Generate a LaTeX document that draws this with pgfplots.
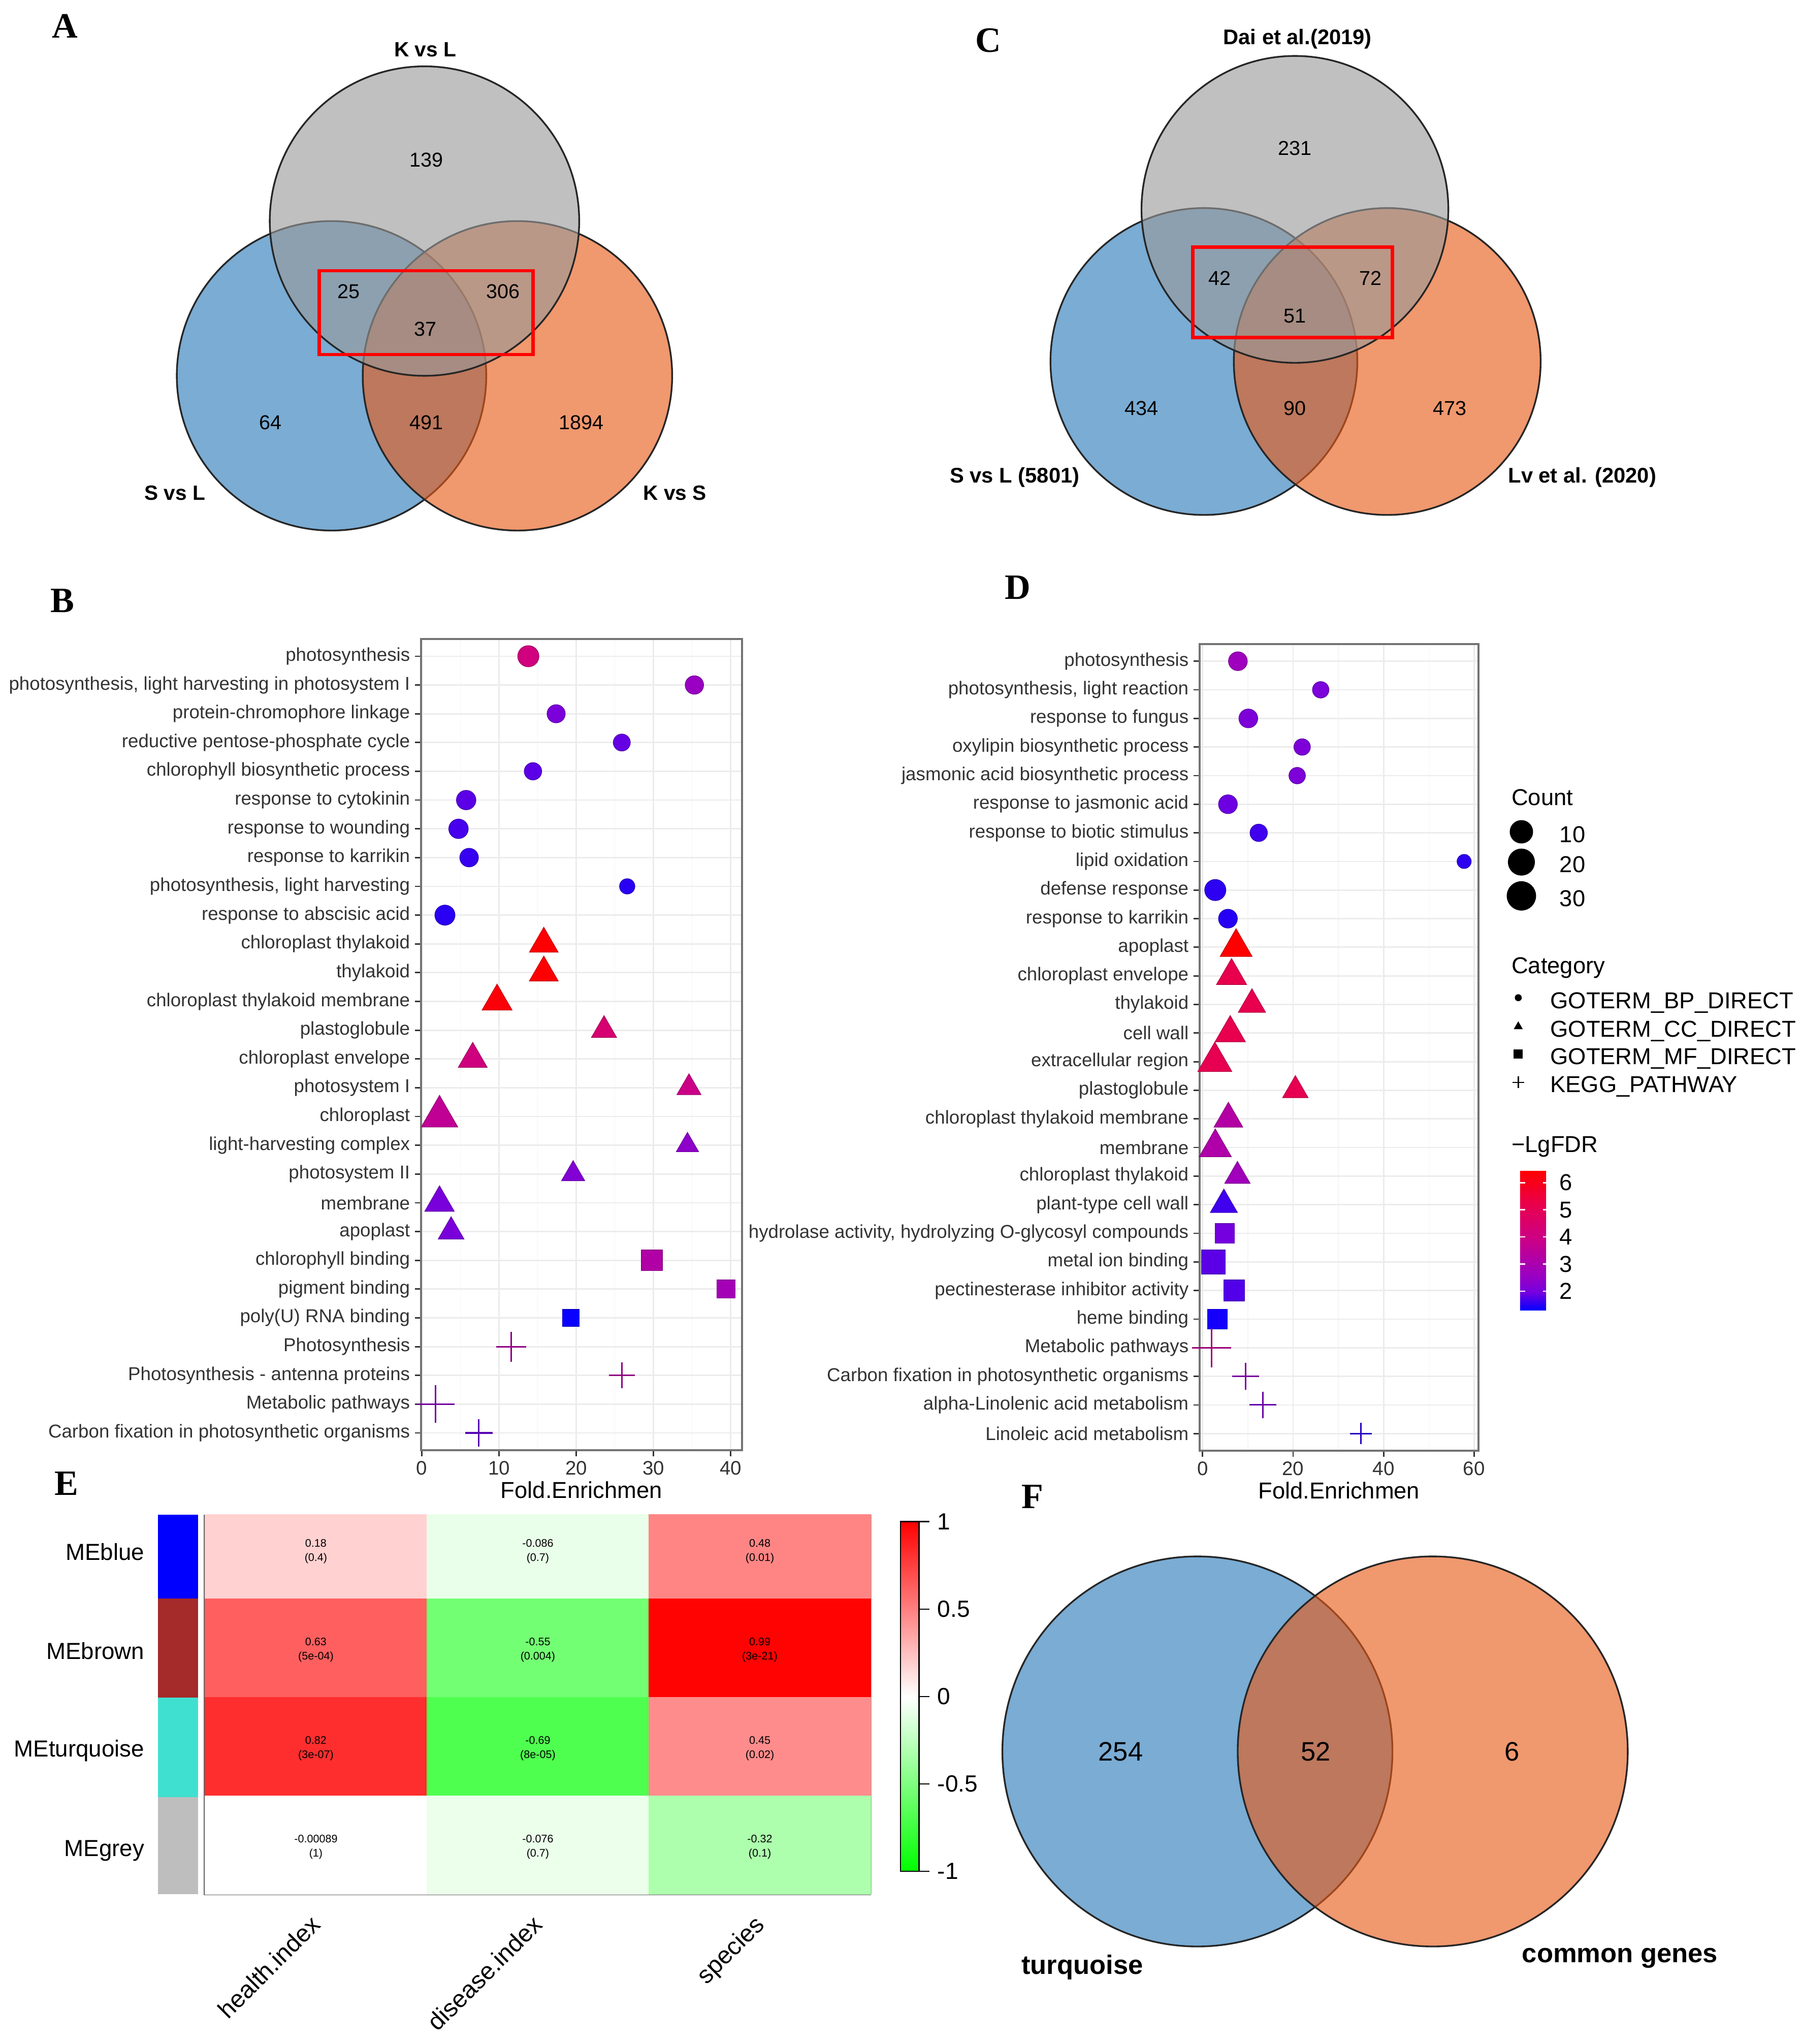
\documentclass[border=0pt]{standalone}
\usepackage{pgfplots}
\pgfplotsset{compat=1.18}
\usepackage{fontspec}
\setmainfont{Liberation Sans}
\newfontfamily\tnr{Liberation Serif}
\newcommand{\fs}[1]{\fontsize{#1}{#1}\selectfont}

\definecolor{vblue}{RGB}{41,121,186}
\definecolor{vorange}{RGB}{231,89,21}
\definecolor{vgray}{RGB}{153,153,153}
\definecolor{mebrown}{RGB}{165,42,42}
\definecolor{meturq}{RGB}{64,224,208}
\definecolor{megrey}{RGB}{190,190,190}

\tikzset{vline/.style={black!85, line width=0.033cm}}

\pgfplotsset{
  /pgf/number format/assume math mode=true,
  colormap={lab}{rgb255(0cm)=(0,0,255); rgb255(1cm)=(115,0,224); rgb255(2cm)=(154,0,194); rgb255(4cm)=(202,0,137); rgb255(6cm)=(232,0,79); rgb255(8cm)=(255,0,0)},
  colormap={gwr}{rgb255(0cm)=(0,255,0); rgb255(1cm)=(255,255,255); rgb255(2cm)=(255,0,0)},
  enrich/.style={
    scale only axis, anchor=north west, y dir=reverse,
    ymin=0.4, ymax=28.6, ytick={1,...,28},
    grid=both,
    major grid style={gray!15, line width=0.0275cm},
    minor grid style={gray!8, line width=0.014cm},
    axis line style={black!55, line width=0.04cm},
    tick style={black!80, line width=0.0275cm},
    major tick length=0.1125cm, minor tick length=0pt,
    tick align=outside, tick pos=left,
    yticklabel style={font=\fs{10.2}, text=black!80, inner sep=0pt, xshift=-0.09cm},
    xticklabel style={font=\fs{10.7}, text=black!80, inner sep=0pt, yshift=-0.09cm},
    xlabel={Fold.Enrichmen},
    xlabel style={font=\fs{12.6}, at={(axis description cs:0.5,-0.049)}, anchor=center},
    colormap name=lab, point meta min=1.29, point meta max=6.44,
  },
  pt/.style={scatter, only marks, point meta=explicit,
    visualization depends on={\thisrow{w} \as \ptw}},
  circ/.style={pt, mark=*, scatter/@pre marker code/.append style={/tikz/mark size=\ptw*0.0125cm}},
  tri/.style={pt, mark=triangle*, scatter/@pre marker code/.append style={/tikz/mark size=\ptw*0.014434cm}},
  sqr/.style={pt, mark=square*, scatter/@pre marker code/.append style={/tikz/mark size=\ptw*0.0125cm}},
  pls/.style={pt, mark=+, mark options={line width=0.03cm}, scatter/@pre marker code/.append style={/tikz/mark size=\ptw*0.0125cm}},
}

\begin{document}
\begin{tikzpicture}

% ---------- overlay: Venn diagrams, panel letters, legend, heatmap labels
\begin{axis}[scale only axis, width=34.625cm, height=39.3cm, at={(0cm,0cm)}, anchor=north west,
  xmin=0, xmax=1385, ymin=0, ymax=1572, y dir=reverse, hide axis, clip=false]
% A
\fill[vblue, fill opacity=0.62] (axis cs:255,289) circle[radius=2.975cm];
\draw[vline] (axis cs:255,289) circle[radius=2.975cm];
\fill[vorange, fill opacity=0.62] (axis cs:398,289) circle[radius=2.975cm];
\draw[vline] (axis cs:398,289) circle[radius=2.975cm];
\fill[vgray, fill opacity=0.62] (axis cs:326.5,170) circle[radius=2.975cm];
\draw[vline] (axis cs:326.5,170) circle[radius=2.975cm];
\draw[red, line width=0.065cm] (axis cs:245.4,208.2) rectangle (axis cs:410,272.6);
\node[font=\bfseries\fs{11.3}] at (axis cs:327,38) {K vs L};
\node[font=\bfseries\fs{11.3}] at (axis cs:134.5,379) {S vs L};
\node[font=\bfseries\fs{11.3}] at (axis cs:519,379) {K vs S};
\node[font=\fs{11}] at (axis cs:328,123) {139};
\node[font=\fs{11}] at (axis cs:268,224) {25};
\node[font=\fs{11}] at (axis cs:387,224) {306};
\node[font=\fs{11}] at (axis cs:327,253) {37};
\node[font=\fs{11}] at (axis cs:208,325) {64};
\node[font=\fs{11}] at (axis cs:328,325) {491};
\node[font=\fs{11}] at (axis cs:447,325) {1894};
% C
\fill[vblue, fill opacity=0.62] (axis cs:926,278) circle[radius=2.95cm];
\draw[vline] (axis cs:926,278) circle[radius=2.95cm];
\fill[vorange, fill opacity=0.62] (axis cs:1067,278) circle[radius=2.95cm];
\draw[vline] (axis cs:1067,278) circle[radius=2.95cm];
\fill[vgray, fill opacity=0.62] (axis cs:996,161) circle[radius=2.95cm];
\draw[vline] (axis cs:996,161) circle[radius=2.95cm];
\draw[red, line width=0.065cm] (axis cs:917.5,190) rectangle (axis cs:1071,259.5);
\node[font=\bfseries\fs{11.6}] at (axis cs:998,30) {Dai et al.(2019)};
\node[font=\bfseries\fs{11.6}] at (axis cs:780.5,367) {S vs L (5801)};
\node[font=\bfseries\fs{11.6}] at (axis cs:1217,367) {Lv et al. (2020)};
\node[font=\fs{11}] at (axis cs:996,114) {231};
\node[font=\fs{11}] at (axis cs:938,214) {42};
\node[font=\fs{11}] at (axis cs:1054,214) {72};
\node[font=\fs{11}] at (axis cs:996,243) {51};
\node[font=\fs{11}] at (axis cs:878,314) {434};
\node[font=\fs{11}] at (axis cs:996,314) {90};
\node[font=\fs{11}] at (axis cs:1115,314) {473};
% F
\fill[vblue, fill opacity=0.62] (axis cs:921,1347) circle[radius=3.75cm];
\draw[vline] (axis cs:921,1347) circle[radius=3.75cm];
\fill[vorange, fill opacity=0.62] (axis cs:1102,1347) circle[radius=3.75cm];
\draw[vline] (axis cs:1102,1347) circle[radius=3.75cm];
\node[font=\fs{14.6}] at (axis cs:862,1347) {254};
\node[font=\fs{14.6}] at (axis cs:1012,1347) {52};
\node[font=\fs{14.6}] at (axis cs:1163,1347) {6};
\node[font=\bfseries\fs{14.6}] at (axis cs:832.5,1513) {turquoise};
\node[font=\bfseries\fs{14.6}] at (axis cs:1246,1506) {common genes};
% panel letters
\node[font=\tnr\bfseries\fs{19.5}] at (axis cs:50,20) {A};
\node[font=\tnr\bfseries\fs{19.5}] at (axis cs:48,462) {B};
\node[font=\tnr\bfseries\fs{19.5}] at (axis cs:760,31) {C};
\node[font=\tnr\bfseries\fs{19.5}] at (axis cs:783,452) {D};
\node[font=\tnr\bfseries\fs{19.5}] at (axis cs:51,1141) {E};
\node[font=\tnr\bfseries\fs{19.5}] at (axis cs:794,1151) {F};
% legend of D
\node[anchor=base west, font=\fs{12.6}] at (axis cs:1157.7,619.4) {Count};
\addplot[only marks, mark=*, black, mark size=0.2175cm] coordinates {(1170.2,639.7)};
\addplot[only marks, mark=*, black, mark size=0.2525cm] coordinates {(1170.2,663)};
\addplot[only marks, mark=*, black, mark size=0.275cm] coordinates {(1170.2,689)};
\node[anchor=base west, font=\fs{12.6}] at (axis cs:1194.7,647.8) {10};
\node[anchor=base west, font=\fs{12.6}] at (axis cs:1194.7,671.1) {20};
\node[anchor=base west, font=\fs{12.6}] at (axis cs:1194.7,697.1) {30};
\node[anchor=base west, font=\fs{12.6}] at (axis cs:1157.7,748.8) {Category};
\addplot[only marks, mark=*, black, mark size=0.06cm] coordinates {(1167.8,767.3)};
\addplot[only marks, mark=triangle*, black, mark size=0.0866cm] coordinates {(1167.8,789.5)};
\addplot[only marks, mark=square*, black, mark size=0.08cm] coordinates {(1167.8,810.5)};
\addplot[only marks, mark=+, black, mark size=0.1125cm, mark options={line width=0.025cm}] coordinates {(1167.8,832.4)};
\node[anchor=base west, font=\fs{12.6}] at (axis cs:1187.5,775.7) {GOTERM\_BP\_DIRECT};
\node[anchor=base west, font=\fs{12.6}] at (axis cs:1187.5,797.5) {GOTERM\_CC\_DIRECT};
\node[anchor=base west, font=\fs{12.6}] at (axis cs:1187.5,818.5) {GOTERM\_MF\_DIRECT};
\node[anchor=base west, font=\fs{12.6}] at (axis cs:1187.5,840) {KEGG\_PATHWAY};
\node[anchor=base west, font=\fs{12.6}] at (axis cs:1157.7,886.3) {−LgFDR};
% module colour strip and labels of E
\fill[blue] (axis cs:121.6,1164.8) rectangle (axis cs:152.4,1229.2);
\fill[mebrown] (axis cs:121.6,1229.2) rectangle (axis cs:152.4,1305.6);
\fill[meturq] (axis cs:121.6,1305.6) rectangle (axis cs:152.4,1382.1);
\fill[megrey] (axis cs:121.6,1382.1) rectangle (axis cs:152.4,1456.9);
\node[anchor=base east, font=\fs{12.7}] at (axis cs:116,1200) {MEblue};
\node[anchor=base east, font=\fs{12.7}] at (axis cs:116,1276) {MEbrown};
\node[anchor=base east, font=\fs{12.7}] at (axis cs:116,1351) {MEturquoise};
\node[anchor=base east, font=\fs{12.7}] at (axis cs:116,1427.5) {MEgrey};
\node[anchor=base east, rotate=45, font=\fs{13.4}] at (axis cs:251,1478) {health.index};
\node[anchor=base east, rotate=45, font=\fs{13.4}] at (axis cs:421.7,1478) {disease.index};
\node[anchor=base east, rotate=45, font=\fs{13.4}] at (axis cs:592.4,1478) {species};
\draw[black!60, line width=0.04cm] (axis cs:157.6,1164.8) -- (axis cs:157.6,1456.9) -- (axis cs:669.8,1456.9);
\draw[black!35, line width=0.02cm] (axis cs:669.8,1456.9) -- (axis cs:669.8,1164.8);
\end{axis}

% ---------- B
\begin{axis}[enrich, width=6.175cm, height=15.5975cm, at={(8.0925cm,-12.285cm)},
  xmin=-0.118, xmax=41.46, xtick={0,10,20,30,40}, minor xtick={5,15,25,35},
  yticklabels={{photosynthesis},{photosynthesis, light harvesting in photosystem I},{protein-chromophore linkage},{reductive pentose-phosphate cycle},{chlorophyll biosynthetic process},{response to cytokinin},{response to wounding},{response to karrikin},{photosynthesis, light harvesting},{response to abscisic acid},{chloroplast thylakoid},{thylakoid},{chloroplast thylakoid membrane},{plastoglobule},{chloroplast envelope},{photosystem I},{chloroplast},{light-harvesting complex},{photosystem II},{membrane},{apoplast},{chlorophyll binding},{pigment binding},{poly(U) RNA binding},{Photosynthesis},{Photosynthesis - antenna proteins},{Metabolic pathways},{Carbon fixation in photosynthetic organisms}}]
\addplot[circ] table[x=x, y=y, meta=f] {
y x w f
1 13.8 16.2 4.12
2 35.3 14.1 2.58
3 17.4 13.9 2.06
4 25.9 13.0 1.86
5 14.4 13.3 1.80
6 5.75 14.9 1.80
7 4.76 14.9 1.68
8 6.13 14.25 1.60
9 26.6 11.7 1.52
10 3.0 15.4 1.52
};
\addplot[tri] table[x=x, y=y, meta=f] {
y x w f
11 15.8 22 6.40
12 15.8 22 6.40
13 9.75 22.9 6.30
14 23.6 19.2 4.40
15 6.6 22 4.10
16 34.6 18.4 3.90
17 2.3 28 3.60
18 34.4 17 2.40
19 19.6 17.7 2.20
20 2.3 22.5 2.05
21 3.8 19.6 2.05
};
\addplot[sqr] table[x=x, y=y, meta=f] {
y x w f
22 29.8 15.9 3.20
23 39.4 14.0 2.85
24 19.3 12.9 1.34
};
\addplot[pls] table[x=x, y=y, meta=f] {
y x w f
25 11.6 23 3.25
26 25.9 20 3.30
27 1.8 29 2.40
28 7.4 21 1.90
};
\end{axis}

% ---------- D
\begin{axis}[enrich, width=5.3675cm, height=15.51cm, at={(23.065cm,-12.3825cm)},
  xmin=-0.69, xmax=61.0, xtick={0,20,40,60}, minor xtick={10,30,50},
  yticklabels={{photosynthesis},{photosynthesis, light reaction},{response to fungus},{oxylipin biosynthetic process},{jasmonic acid biosynthetic process},{response to jasmonic acid},{response to biotic stimulus},{lipid oxidation},{defense response},{response to karrikin},{apoplast},{chloroplast envelope},{thylakoid},{cell wall},{extracellular region},{plastoglobule},{chloroplast thylakoid membrane},{membrane},{chloroplast thylakoid},{plant-type cell wall},{hydrolase activity, hydrolyzing O-glycosyl compounds},{metal ion binding},{pectinesterase inhibitor activity},{heme binding},{Metabolic pathways},{Carbon fixation in photosynthetic organisms},{alpha-Linolenic acid metabolism},{Linoleic acid metabolism}},
  colorbar,
  colorbar style={at={(parent axis.north east)}, anchor=north west,
    xshift=0.4975cm, yshift=-10.1275cm, scale only axis, width=0.545cm, height=2.685cm,
    y dir=normal, axis line style={draw=none}, xtick=\empty,
    ytick={2,3,4,5,6}, ytick pos=both, yticklabel pos=right, tick align=inside,
    major tick length=0.1cm, tick style={white, line width=0.025cm},
    yticklabel style={font=\fs{12.6}, text=black, inner sep=0pt, anchor=west, xshift=0.21cm}}]
\addplot[circ] table[x=x, y=y, meta=f] {
y x w f
1 7.8 14.4 2.68
2 26.1 12.6 2.06
3 10.1 14.4 2.10
4 22.0 12.6 2.10
5 20.9 12.6 2.10
6 5.6 14.4 1.90
7 12.4 13.3 1.65
8 57.8 10.8 1.55
9 2.8 16.2 1.55
10 5.6 14.4 1.50
};
\addplot[tri] table[x=x, y=y, meta=f] {
y x w f
11 7.4 24.5 6.44
12 6.4 23 5.15
13 10.9 20.8 5.15
14 6.1 23.2 5.15
15 2.7 26 5.10
16 20.5 19.4 5.10
17 5.7 22 3.25
18 2.8 24.6 3.15
19 7.7 19.4 2.75
20 4.7 20.7 1.65
};
\addplot[sqr] table[x=x, y=y, meta=f] {
y x w f
21 4.9 15 1.96
22 2.4 18.4 1.80
23 7.0 16 1.75
24 3.3 15.2 1.40
};
\addplot[pls] table[x=x, y=y, meta=f] {
y x w f
25 2.0 30 3.60
26 9.5 20.6 2.50
27 13.3 20.6 2.20
28 35.0 16.6 1.55
};
\end{axis}

% ---------- E heatmap
\begin{axis}[scale only axis, width=12.805cm, height=7.3025cm, at={(3.94cm,-29.12cm)}, anchor=north west,
  xmin=-0.5, xmax=2.5, ymin=-0.354, ymax=3.5, y dir=reverse,
  xtick=\empty, ytick=\empty, axis line style={draw=none},
  colormap name=gwr, point meta min=-1, point meta max=1,
  colorbar,
  colorbar style={at={(parent axis.north east)}, anchor=north west,
    xshift=0.27cm, yshift=-0.1375cm, scale only axis, width=0.355cm, height=6.72cm,
    y dir=normal, xtick=\empty, ytick={-1,-0.5,0,0.5,1}, ytick pos=right, yticklabel pos=right,
    tick align=outside, major tick length=0.2cm, tick style={black, line width=0.025cm},
    axis line style={black, line width=0.025cm},
    yticklabel style={font=\fs{12.8}, inner sep=0pt, anchor=west, xshift=0.15cm}}]
\addplot[matrix plot*, mesh/cols=3, point meta=explicit] table[x=x, y=y, meta=c] {
x y c
0 0 0.18
1 0 -0.086
2 0 0.48
0 1 0.63
1 1 -0.55
2 1 0.99
0 2 0.82
1 2 -0.69
2 2 0.45
0 3 -0.00089
1 3 -0.076
2 3 -0.32
};
\addplot[draw=none, mark=none, point meta=explicit symbolic, nodes near coords,
  nodes near coords style={font=\fs{6}, text=black, anchor=center, inner sep=0pt, yshift=0.125cm}]
  table[x=x, y=y, meta=t] {
x y t
0 0 0.18
1 0 -0.086
2 0 0.48
0 1 0.63
1 1 -0.55
2 1 0.99
0 2 0.82
1 2 -0.69
2 2 0.45
0 3 -0.00089
1 3 -0.076
2 3 -0.32
};
\addplot[draw=none, mark=none, point meta=explicit symbolic, nodes near coords,
  nodes near coords style={font=\fs{6}, text=black, anchor=center, inner sep=0pt, yshift=-0.175cm}]
  table[x=x, y=y, meta=t] {
x y t
0 0 (0.4)
1 0 (0.7)
2 0 (0.01)
0 1 (5e-04)
1 1 (0.004)
2 1 (3e-21)
0 2 (3e-07)
1 2 (8e-05)
2 2 (0.02)
0 3 (1)
1 3 (0.7)
2 3 (0.1)
};
\end{axis}

\pgfresetboundingbox
\path[use as bounding box] (0cm,0cm) rectangle (34.625cm,-39.3cm);
\end{tikzpicture}
\end{document}
